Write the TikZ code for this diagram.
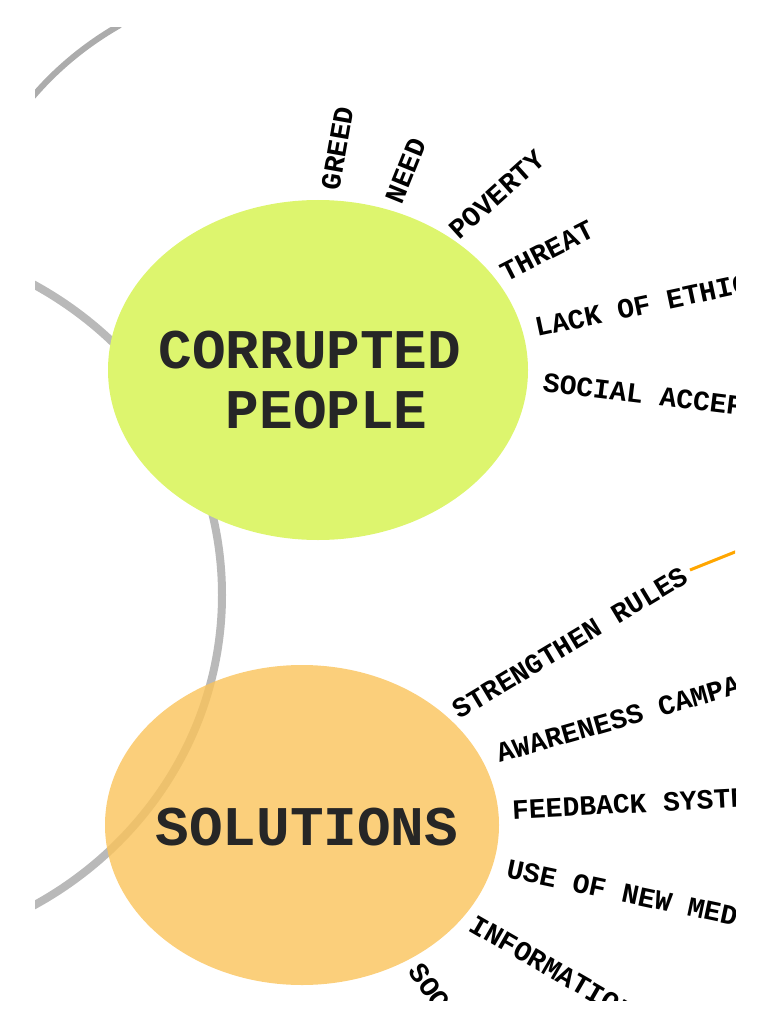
\documentclass[tikz,border=0pt]{standalone}
\usepackage{fontspec}
\setmonofont{Liberation Mono}
\begin{document}
\begin{tikzpicture}[x=1pt,y=-1pt,
  lbl/.style={font=\ttfamily\bfseries\fontsize{28}{28}\selectfont,anchor=west,inner sep=0pt},
  big/.style={font=\ttfamily\bfseries\fontsize{56}{60}\selectfont,align=left,text=black!85}]
\useasboundingbox (0,0) rectangle (768,1024);
\begin{scope}
\clip (35,28) rectangle (735,1000);
\draw[gray!55,line width=8pt] (-150,595) ellipse [x radius=372, y radius=357];
\draw[gray!65,line width=6pt] (30,100) .. controls (55,70) and (85,45) .. (120,25);
\draw[orange!70!yellow,line width=3pt] (690,570) -- (740,550);
\fill[fill={rgb,255:red,221;green,245;blue,110}] (318,370) ellipse [x radius=210,y radius=170];
\fill[fill={rgb,255:red,250;green,195;blue,90},opacity=0.8] (302,825) ellipse [x radius=197,y radius=160];
\node[big] (cp) at (310,380) {CORRUPTED\\\hspace*{1.2em}PEOPLE};
\node[big] (so) at (307,827) {SOLUTIONS};
\node[lbl,rotate=80] (a1) at (330,190) {GREED};
\node[lbl,rotate=68] (a2) at (393,202) {NEED};
\node[lbl,rotate=42] (a3) at (453,234) {POVERTY};
\node[lbl,rotate=27] (a4) at (502,274) {THREAT};
\node[lbl,rotate=12] (a5) at (535,328) {LACK OF ETHICS};
\node[lbl,rotate=-7] (a6) at (543,382) {SOCIAL ACCEPTANCE};
\node[lbl,rotate=31] (b1) at (455,712) {STRENGTHEN RULES};
\node[lbl,rotate=16] (b2) at (497,754) {AWARENESS CAMPAIGN};
\node[lbl,rotate=3] (b3) at (512,810) {FEEDBACK SYSTEM};
\node[lbl,rotate=-12] (b4) at (507,868) {USE OF NEW MEDIA};
\node[lbl,rotate=-30] (b5) at (472,922) {INFORMATION};
\node[lbl,rotate=-55] (b6) at (415,966) {SOCIAL};
\end{scope}
\end{tikzpicture}
\end{document}
